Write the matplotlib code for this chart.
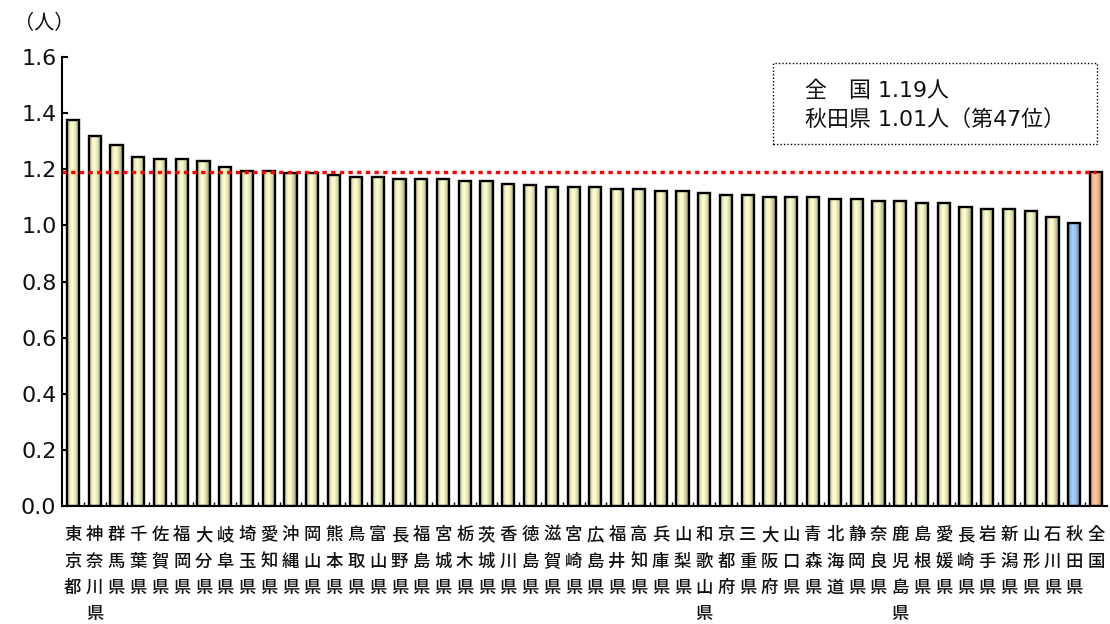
import numpy as np
import matplotlib
matplotlib.use("Agg")
import matplotlib.pyplot as plt
from matplotlib.colors import LinearSegmentedColormap
from matplotlib.patches import Rectangle

# Prefecture names (ordered by value), with the national figure last
prefectures = [
    "東京都", "神奈川県", "群馬県", "千葉県", "佐賀県", "福岡県", "大分県", "岐阜県",
    "埼玉県", "愛知県", "沖縄県", "岡山県", "熊本県", "鳥取県", "富山県", "長野県",
    "福島県", "宮城県", "栃木県", "茨城県", "香川県", "徳島県", "滋賀県", "宮崎県",
    "広島県", "福井県", "高知県", "兵庫県", "山梨県", "和歌山県", "京都府", "三重県",
    "大阪府", "山口県", "青森県", "北海道", "静岡県", "奈良県", "鹿児島県", "島根県",
    "愛媛県", "長崎県", "岩手県", "新潟県", "山形県", "石川県", "秋田県", "全国",
]

national_value = 1.19
akita_value = 1.01
akita_rank = 47

prefecture_values = [
    1.377, 1.320, 1.286, 1.242, 1.236, 1.236, 1.229, 1.208,
    1.192, 1.192, 1.186, 1.186, 1.179, 1.172, 1.172, 1.165,
    1.165, 1.164, 1.157, 1.157, 1.149, 1.143, 1.136, 1.136,
    1.136, 1.128, 1.128, 1.122, 1.122, 1.115, 1.109, 1.108,
    1.101, 1.101, 1.101, 1.094, 1.094, 1.087, 1.087, 1.079,
    1.079, 1.065, 1.058, 1.058, 1.051, 1.030, akita_value,
]
values = prefecture_values + [national_value]

y_ticks = [0.0, 0.2, 0.4, 0.6, 0.8, 1.0, 1.2, 1.4, 1.6]

CJK = "Noto Sans CJK JP"
MIXED = ["DejaVu Sans", CJK]

# Horizontal shading for the bar faces
yellow_stops = [(0.0, "#9c9c7c"), (0.12, "#d2d2a8"), (0.35, "#ffffcc"),
                (0.55, "#f6f6c4"), (0.8, "#c4c49c"), (1.0, "#74745a")]
blue_stops = [(0.0, "#5878a0"), (0.12, "#84acdc"), (0.35, "#a8d2fc"),
              (0.55, "#9ec6f0"), (0.8, "#7898c0"), (1.0, "#4a6688")]
orange_stops = [(0.0, "#a07858"), (0.12, "#dcac84"), (0.35, "#ffcc99"),
                (0.55, "#f6c292"), (0.8, "#c89870"), (1.0, "#7c5c40")]


def shade(stops):
    cmap = LinearSegmentedColormap.from_list("shade", stops)
    return cmap(np.linspace(0, 1, 64))[None, :, :]


W, H = 1110, 624
fig = plt.figure(figsize=(W / 100, H / 100), dpi=100)
ax = fig.add_axes([62 / W, (H - 506) / H, 1045 / W, 449 / H])

x = np.arange(len(values))
bar_w = 0.56
for i, v in enumerate(values):
    name = prefectures[i]
    if name == "全国":
        img = shade(orange_stops)
    elif name == "秋田県":
        img = shade(blue_stops)
    else:
        img = shade(yellow_stops)
    ax.imshow(img, extent=(i - bar_w / 2, i + bar_w / 2, 0, v),
              aspect="auto", interpolation="bilinear", zorder=2)

ax.bar(x, values, width=bar_w, facecolor="none", edgecolor="black",
       linewidth=1.7, zorder=3)

# National average reference line
ax.plot([-0.5, len(values) - 1], [national_value, national_value],
        color="#ff0000", lw=2.4, ls=(0, (1.3, 1.3)),
        dash_capstyle="butt", zorder=4)

ax.set_xlim(-0.5, len(values) - 0.5)
ax.set_ylim(0, 1.6)

for s in ("top", "right"):
    ax.spines[s].set_visible(False)
for s in ("left", "bottom"):
    ax.spines[s].set_linewidth(1.5)
    ax.spines[s].set_zorder(5)

ax.set_yticks(y_ticks)
ax.set_yticklabels([f"{t:.1f}" for t in y_ticks], fontsize=16,
                   family="DejaVu Sans", color="#111111")
ax.tick_params(axis="y", direction="in", length=4, width=1.5, pad=4)

ax.set_xticks([])
ax.set_xticks(np.arange(0.5, len(values) - 0.5, 1), minor=True)
ax.tick_params(axis="x", which="minor", direction="in", length=3, width=1)

# Vertical category labels, one character per row
for i, name in enumerate(prefectures):
    for k, ch in enumerate(name):
        ax.annotate(ch, xy=(i, 0), xycoords=("data", "axes fraction"),
                    xytext=(0, -(29 + k * 26.5)), textcoords="offset pixels",
                    ha="center", va="center", fontsize=12.5, family=CJK,
                    weight="medium", color="#111111", annotation_clip=False)

fig.text(14 / W, 1 - 24 / H, "（人）", fontsize=14.5, family=CJK,
         ha="left", va="center", color="#111111")

# Summary box
fig.add_artist(Rectangle((773 / W, 1 - 144 / H), (1097 - 773) / W, (144 - 63) / H,
                         transform=fig.transFigure, fill=False, ls=(0, (1, 1.5)),
                         lw=1.0, edgecolor="black"))
fig.text(805 / W, 1 - 91 / H, f"全　国 {national_value:.2f}人",
         fontsize=15.8, family=MIXED, ha="left", va="center", color="#111111")
fig.text(805 / W, 1 - 119 / H,
         f"秋田県 {akita_value:.2f}人（第{akita_rank}位）",
         fontsize=15.8, family=MIXED, ha="left", va="center", color="#111111")

fig.savefig("out.png", dpi=100)
